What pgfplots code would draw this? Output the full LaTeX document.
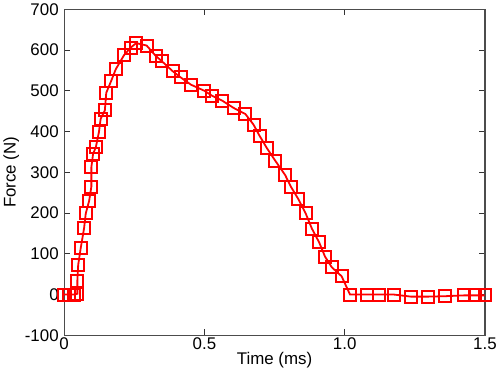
\documentclass[border=0pt]{standalone}
\usepackage{pgfplots}
\pgfplotsset{compat=1.18}
\usepackage{fontspec}
\setmainfont{Liberation Sans}
\begin{document}
\begin{tikzpicture}
\begin{axis}[
  scale only axis,
  width=422bp, height=327bp,
  xmin=0, xmax=1.5, ymin=-100, ymax=700,
  xtick={0,0.5,1,1.5}, xticklabels={0,0.5,1.0,1.5},
  ytick={-100,0,100,200,300,400,500,600,700},
  tick align=inside,
  major tick length=6bp,
  axis line style={black!70, line width=1.2bp},
  every tick/.style={black!80, line width=0.8bp},
  tick label style={font=\fontsize{17}{20}\selectfont},
  label style={font=\fontsize{17}{20}\selectfont},
  yticklabel style={xshift=-2bp},
  xticklabel style={yshift=1bp},
  /pgf/number format/assume math mode=true,
  xlabel={Time (ms)}, ylabel={Force (N)},
  xlabel style={yshift=4bp},
  ylabel style={yshift=-1bp},
]
\addplot[red, line width=1.8bp, mark=square, mark size=6bp, mark options={red, solid, line width=2bp}] coordinates {
(0.000,0) (0.018,0) (0.036,0) (0.047,2) (0.047,34) (0.050,73) (0.059,114)
(0.071,163) (0.077,199) (0.089,230) (0.097,265) (0.097,313) (0.103,345)
(0.113,362) (0.124,399) (0.130,431) (0.145,452) (0.150,495) (0.168,525)
(0.184,553) (0.213,587) (0.237,606) (0.257,617) (0.294,611) (0.326,586)
(0.349,572) (0.387,548) (0.415,533) (0.452,515) (0.500,500) (0.527,488)
(0.563,476) (0.604,458) (0.646,443) (0.675,417) (0.697,389) (0.723,359)
(0.753,328) (0.788,293) (0.808,265) (0.835,234) (0.861,199) (0.883,162)
(0.909,128) (0.930,93) (0.954,67) (0.989,45) (1.019,0) (1.078,0)
(1.123,0) (1.176,0) (1.236,-5) (1.298,-5) (1.357,-4) (1.424,-2)
(1.464,-2) (1.499,-2)
};
\end{axis}
\end{tikzpicture}
\end{document}
